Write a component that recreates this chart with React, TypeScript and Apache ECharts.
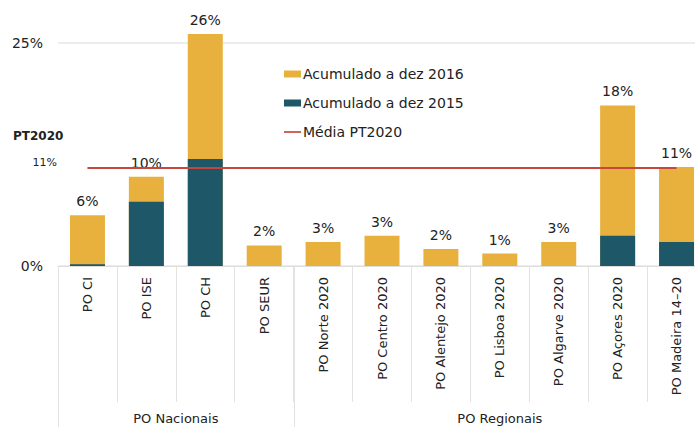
import React, { useEffect, useRef } from "react";
import * as echarts from "echarts";

const categories = [
  "PO CI",
  "PO ISE",
  "PO CH",
  "PO SEUR",
  "PO Norte 2020",
  "PO Centro 2020",
  "PO Alentejo 2020",
  "PO Lisboa 2020",
  "PO Algarve 2020",
  "PO Açores 2020",
  "PO Madeira 14–20",
];
const acum2016 = [5.7, 10.0, 26.0, 2.3, 2.7, 3.4, 1.9, 1.4, 2.7, 18.0, 11.1];
const acum2015 = [0.2, 7.2, 12.0, 0, 0, 0, 0, 0, 0, 3.4, 2.7];
const topLabels = ["6%", "10%", "26%", "2%", "3%", "3%", "2%", "1%", "3%", "18%", "11%"];
const mediaPT2020 = [11, 11, 11, 11, 11, 11, 11, 11, 11, 11, 11];
const mediaValue = 11;
const mediaLabel = "11%";
const groupNames = ["PO Nacionais", "PO Regionais"];
const groupStart = [0, 4];
const groupEnd = [3, 10];

const FONT = "DejaVu Sans";
const YELLOW = "#E8B03C";
const TEAL = "#1E5868";
const RED = "#C8473D";

export default function App() {
  const ref = useRef<HTMLDivElement>(null);
  useEffect(() => {
    if (!ref.current) return;
    const chart = echarts.init(ref.current, undefined, { renderer: "svg" });
    chart.setOption({
      animation: false,
      backgroundColor: "#ffffff",
      textStyle: { fontFamily: FONT },
      grid: {
        left: 58,
        width: 648,
        top: 43,
        bottom: 161,
        containLabel: false,
        outerBoundsMode: "none",
      },
      legend: {
        orient: "vertical",
        left: 279,
        top: 62,
        itemGap: 15,
        itemWidth: 17,
        itemHeight: 7,
        textStyle: { fontFamily: FONT, fontSize: 14, color: "#222", padding: [0, 0, 0, -3] },
        data: [
          { name: "Acumulado a dez 2016", icon: "rect" },
          { name: "Acumulado a dez 2015", icon: "rect" },
          { name: "Média PT2020", icon: "path://M0 0 H20 V2 H0 Z" },
        ],
      },
      xAxis: {
        type: "category",
        data: categories,
        axisLine: { show: true, lineStyle: { color: "#dddddd", width: 1 } },
        axisTick: { show: true, interval: 0, length: 136, lineStyle: { color: "#e2e2e2" } },
        axisLabel: {
          interval: 0,
          rotate: 90,
          margin: 11,
          fontSize: 13,
          color: "#222",
          fontFamily: FONT,
        },
      },
      yAxis: {
        type: "value",
        min: 0,
        max: 25,
        interval: 25,
        axisLine: { show: false },
        axisTick: { show: false },
        splitLine: { show: true, lineStyle: { color: "#e6e6e6", width: 1.5 } },
        axisLabel: { formatter: "{value}%", fontSize: 14, color: "#222", margin: 15, fontFamily: FONT },
      },
      series: [
        {
          name: "Acumulado a dez 2016",
          type: "bar",
          data: acum2016,
          barWidth: 35,
          clip: false,
          itemStyle: { color: YELLOW },
          label: {
            show: true,
            position: "top",
            distance: 7,
            fontSize: 14,
            color: "#222",
            fontFamily: FONT,
            formatter: (p: any) => topLabels[p.dataIndex],
          },
          z: 2,
        },
        {
          name: "Acumulado a dez 2015",
          type: "bar",
          data: acum2015,
          barWidth: 35,
          barGap: "-100%",
          clip: false,
          itemStyle: { color: TEAL },
          z: 3,
        },
        {
          name: "Média PT2020",
          type: "line",
          data: mediaPT2020,
          symbol: "none",
          lineStyle: { color: RED, width: 2 },
          itemStyle: { color: RED },
          z: 5,
        },
      ],
    });

    const c0 = chart.convertToPixel({ xAxisIndex: 0 }, 0) as number;
    const c1 = chart.convertToPixel({ xAxisIndex: 0 }, 1) as number;
    const band = c1 - c0;
    const y0 = chart.convertToPixel({ yAxisIndex: 0 }, 0) as number;
    const yMedia = chart.convertToPixel({ yAxisIndex: 0 }, mediaValue) as number;
    const bottom = 427;

    const graphics: any[] = [];
    const boundaries = new Set<number>();
    groupStart.forEach((s) => boundaries.add(s));
    groupEnd.forEach((e) => boundaries.add(e + 1));
    boundaries.forEach((b) => {
      const x = Math.round(c0 + (b - 0.5) * band) + 0.5;
      graphics.push({
        type: "line",
        shape: { x1: x, y1: y0, x2: x, y2: bottom },
        style: { stroke: "#e2e2e2", lineWidth: 1 },
        silent: true,
      });
    });
    groupNames.forEach((name, i) => {
      const cx = c0 + ((groupStart[i] + groupEnd[i]) / 2) * band;
      graphics.push({
        type: "text",
        x: cx,
        y: 418,
        style: {
          text: name,
          fontFamily: FONT,
          fontSize: 13,
          fill: "#222",
          align: "center",
          verticalAlign: "middle",
        },
        silent: true,
      });
    });
    graphics.push({
      type: "text",
      x: 13,
      y: yMedia - 32,
      style: {
        text: "PT2020",
        fontFamily: FONT,
        fontSize: 12,
        fontWeight: "bold",
        fill: "#222",
        align: "left",
        verticalAlign: "middle",
      },
      silent: true,
    });
    graphics.push({
      type: "text",
      x: 57,
      y: yMedia - 5,
      style: {
        text: mediaLabel,
        fontFamily: FONT,
        fontSize: 11,
        fill: "#222",
        align: "right",
        verticalAlign: "middle",
      },
      silent: true,
    });
    chart.setOption({ graphic: graphics });

    return () => chart.dispose();
  }, []);

  return <div ref={ref} style={{ width: 695, height: 427, position: "absolute", left: 0, top: 0 }} />;
}
